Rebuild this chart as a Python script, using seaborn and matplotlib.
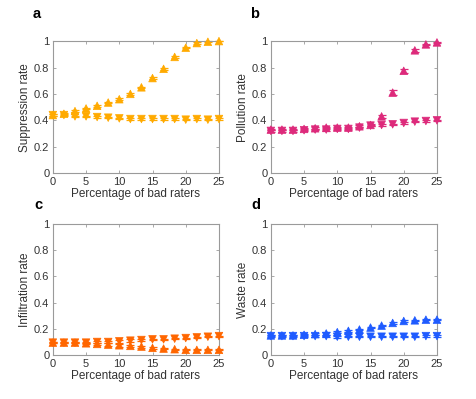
import numpy as np
import pandas as pd
import matplotlib
matplotlib.use("Agg")
import matplotlib.pyplot as plt
import seaborn as sns

# ---------- Data ----------
pct_bad = [0, 1.667, 3.333, 5, 6.667, 8.333, 10, 11.667, 13.333, 15,
           16.667, 18.333, 20, 21.667, 23.333, 25]

supp_up = [0.44, 0.45, 0.47, 0.49, 0.51, 0.535, 0.56, 0.60, 0.65, 0.72,
           0.79, 0.88, 0.95, 0.985, 0.995, 1.0]
supp_up_err = [0.006, 0.008, 0.007, 0.006, 0.006, 0.006, 0.006, 0.006, 0.006, 0.006,
               0.006, 0.007, 0.006, 0.005, 0.004, 0.003]
supp_down = [0.44, 0.44, 0.43, 0.43, 0.425, 0.42, 0.415, 0.41, 0.41, 0.41,
             0.41, 0.41, 0.405, 0.41, 0.405, 0.41]
supp_down_err = [0.006] * 16

poll_up = [0.33, 0.33, 0.33, 0.335, 0.34, 0.345, 0.345, 0.345, 0.355, 0.365,
           0.43, 0.61, 0.775, 0.93, 0.975, 0.99]
poll_up_err = [0.006, 0.006, 0.006, 0.006, 0.006, 0.007, 0.007, 0.007, 0.006, 0.006,
               0.01, 0.02, 0.015, 0.01, 0.006, 0.004]
poll_down = [0.32, 0.32, 0.32, 0.325, 0.33, 0.33, 0.335, 0.335, 0.345, 0.36,
             0.365, 0.37, 0.38, 0.39, 0.395, 0.40]
poll_down_err = [0.006, 0.006, 0.006, 0.006, 0.006, 0.01, 0.01, 0.01, 0.006, 0.006,
                 0.006, 0.006, 0.006, 0.006, 0.006, 0.006]

infl_up = [0.095, 0.095, 0.095, 0.09, 0.085, 0.08, 0.075, 0.07, 0.065, 0.055,
           0.05, 0.045, 0.04, 0.04, 0.04, 0.04]
infl_up_err = [0.005, 0.005, 0.005, 0.006, 0.008, 0.01, 0.01, 0.01, 0.008, 0.006,
               0.005, 0.005, 0.004, 0.004, 0.004, 0.004]
infl_down = [0.095, 0.095, 0.095, 0.095, 0.1, 0.1, 0.105, 0.11, 0.115, 0.12,
             0.12, 0.125, 0.13, 0.135, 0.14, 0.145]
infl_down_err = [0.005, 0.005, 0.005, 0.006, 0.008, 0.01, 0.01, 0.01, 0.008, 0.006,
                 0.005, 0.005, 0.004, 0.004, 0.004, 0.004]

waste_up = [0.15, 0.15, 0.15, 0.155, 0.16, 0.165, 0.175, 0.185, 0.195, 0.21,
            0.225, 0.245, 0.26, 0.265, 0.27, 0.27]
waste_up_err = [0.006, 0.006, 0.007, 0.008, 0.01, 0.01, 0.008, 0.006, 0.006, 0.006,
                0.005, 0.005, 0.005, 0.005, 0.005, 0.005]
waste_down = [0.145, 0.145, 0.145, 0.145, 0.145, 0.145, 0.14, 0.14, 0.14, 0.14,
              0.14, 0.14, 0.14, 0.14, 0.145, 0.145]
waste_down_err = [0.006, 0.006, 0.007, 0.008, 0.01, 0.01, 0.006, 0.005, 0.005, 0.005,
                  0.005, 0.005, 0.005, 0.005, 0.005, 0.005]

panel_letters = ["a", "b", "c", "d"]
ylabels = ["Suppression rate", "Pollution rate", "Infiltration rate", "Waste rate"]
colors = ["#FFAA00", "#DD2A7B", "#FF6600", "#1F5BFF"]
xticks = [0, 5, 10, 15, 20, 25]
yticks = [0, 0.2, 0.4, 0.6, 0.8, 1]
ytick_labels = ["0", "0.2", "0.4", "0.6", "0.8", "1"]

panels = [
    (supp_up, supp_up_err, supp_down, supp_down_err),
    (poll_up, poll_up_err, poll_down, poll_down_err),
    (infl_up, infl_up_err, infl_down, infl_down_err),
    (waste_up, waste_up_err, waste_down, waste_down_err),
]

# ---------- Style ----------
sns.set_theme(style="white")
plt.rcParams["font.family"] = ["Liberation Sans", "DejaVu Sans"]
GRAY = "#333333"
SPINE = "#9a9a9a"

fig = plt.figure(figsize=(4.76, 3.99), dpi=100)
positions = [
    [0.111, 0.566, 0.349, 0.331],
    [0.569, 0.566, 0.349, 0.331],
    [0.111, 0.110, 0.349, 0.329],
    [0.569, 0.110, 0.349, 0.329],
]
letter_pos = [(0.068, 0.965), (0.525, 0.965), (0.072, 0.485), (0.528, 0.485)]

for i, (up, up_err, down, down_err) in enumerate(panels):
    ax = fig.add_axes(positions[i])
    c = colors[i]
    df = pd.DataFrame({"x": pct_bad * 2, "y": up + down,
                       "kind": ["up"] * len(up) + ["down"] * len(down)})
    for series, err in ((up, up_err), (down, down_err)):
        ax.errorbar(pct_bad, series, yerr=err, fmt="none", ecolor=c,
                    elinewidth=0.9, capsize=3.2, capthick=0.9, zorder=2,
                    clip_on=False)
    sns.scatterplot(data=df, x="x", y="y", style="kind",
                    markers={"up": "^", "down": "v"}, color=c, s=30,
                    edgecolor=c, linewidth=0.5, legend=False, ax=ax, zorder=3,
                    clip_on=False)

    ax.set_xlim(0, 25)
    ax.set_ylim(0, 1)
    ax.set_xticks(xticks)
    ax.set_yticks(yticks)
    ax.set_yticklabels(ytick_labels)
    ax.set_xlabel("Percentage of bad raters", fontsize=8.5, color=GRAY, labelpad=1)
    ax.set_ylabel(ylabels[i], fontsize=8.5, color=GRAY, labelpad=2)
    ax.tick_params(direction="in", length=2.5, width=0.6, colors=SPINE,
                   labelcolor=GRAY, labelsize=8, pad=2.5,
                   top=True, right=True, bottom=True, left=True)
    for sp in ax.spines.values():
        sp.set_visible(True)
        sp.set_color(SPINE)
        sp.set_linewidth(0.8)
    fig.text(letter_pos[i][0], letter_pos[i][1], panel_letters[i],
             fontsize=10.5, fontweight="bold", color="black", va="center")

fig.savefig("out.png", dpi=100)
